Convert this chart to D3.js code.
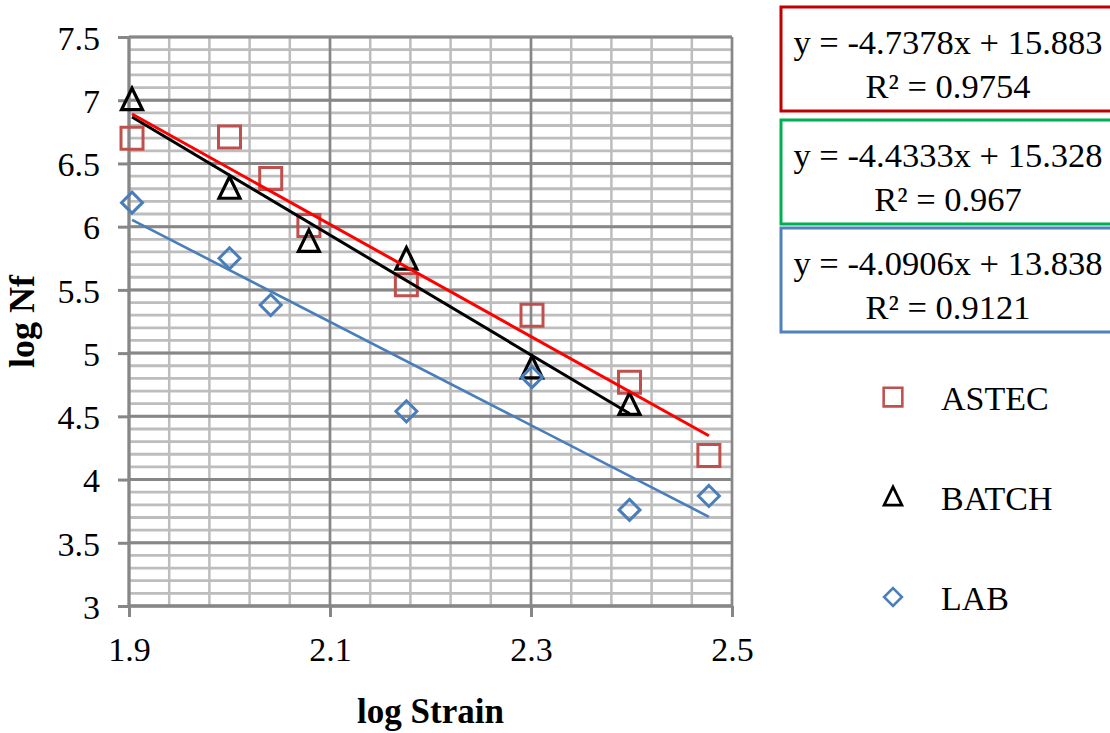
<!DOCTYPE html>
<html>
<head>
<meta charset="utf-8">
<script src="https://cdn.jsdelivr.net/npm/d3@7"></script>
<style>
  html, body { margin: 0; padding: 0; background: #ffffff; }
  svg { display: block; }
  text { font-family: "Liberation Serif", "Times New Roman", serif; fill: #000; }
</style>
</head>
<body>
<svg id="chart" width="1110" height="733"></svg>
<script>
// ---------------- data ----------------
const seriesNames = ["ASTEC", "BATCH", "LAB"];
const astecX = [1.903, 2.0, 2.041, 2.079, 2.176, 2.301, 2.398, 2.477];
const astecY = [6.70, 6.71, 6.38, 6.01, 5.54, 5.30, 4.77, 4.19];
const batchX = [1.903, 2.0, 2.079, 2.176, 2.301, 2.398];
const batchY = [7.00, 6.30, 5.88, 5.74, 4.88, 4.59];
const labX = [1.903, 2.0, 2.041, 2.176, 2.301, 2.398, 2.477];
const labY = [6.19, 5.75, 5.38, 4.54, 4.81, 3.76, 3.87];

// trendline coefficients (slope, intercept) per series
const trendSlope = [-4.4333, -4.7378, -4.0906];     // ASTEC, BATCH, LAB
const trendIntercept = [15.328, 15.883, 13.838];

// equation label boxes (as shown, top to bottom)
const eqSlope = [-4.7378, -4.4333, -4.0906];
const eqIntercept = [15.883, 15.328, 13.838];
const eqR2 = ["0.9754", "0.967", "0.9121"];

const xTicks = [1.9, 2.1, 2.3, 2.5];
const yTicks = [3, 3.5, 4, 4.5, 5, 5.5, 6, 6.5, 7, 7.5];
const xTitle = "log Strain";
const yTitle = "log Nf";

// ---------------- layout ----------------
const svg = d3.select("#chart");
const X0 = 129, X1 = 732, Y0 = 606, Y1 = 37;
const x = d3.scaleLinear().domain([1.9, 2.5]).range([X0, X1]);
const y = d3.scaleLinear().domain([3, 7.5]).range([Y0, Y1]);

const minorCol = "#bdbdbd", majorCol = "#878787";

// minor gridlines
const xMinor = d3.range(0, 16).map(i => +(1.9 + i * 0.04).toFixed(3));
const yMinor = d3.range(0, 46).map(i => +(3 + i * 0.1).toFixed(2));
const g = svg.append("g");
g.selectAll(".hmin").data(yMinor).enter().append("line")
  .attr("x1", X0).attr("x2", X1).attr("y1", d => y(d)).attr("y2", d => y(d))
  .attr("stroke", minorCol).attr("stroke-width", 2.8);
g.selectAll(".vmin").data(xMinor).enter().append("line")
  .attr("y1", Y0).attr("y2", Y1).attr("x1", d => x(d)).attr("x2", d => x(d))
  .attr("stroke", minorCol).attr("stroke-width", 2.5);
// major gridlines
g.selectAll(".hmaj").data(yTicks).enter().append("line")
  .attr("x1", X0).attr("x2", X1).attr("y1", d => y(d)).attr("y2", d => y(d))
  .attr("stroke", majorCol).attr("stroke-width", 3);
g.selectAll(".vmaj").data(xTicks).enter().append("line")
  .attr("y1", Y0).attr("y2", Y1).attr("x1", d => x(d)).attr("x2", d => x(d))
  .attr("stroke", majorCol).attr("stroke-width", 2.5);

// axes
const xAxis = d3.axisBottom(x).tickValues(xTicks).tickFormat(d3.format(".1f")).tickSize(11).tickPadding(20);
const yAxis = d3.axisLeft(y).tickValues(yTicks).tickFormat(d => d3.format("")(d)).tickSize(11).tickPadding(18);
const gx = svg.append("g").attr("transform", `translate(0,${Y0})`).call(xAxis);
const gy = svg.append("g").attr("transform", `translate(${X0},0)`).call(yAxis);
[gx, gy].forEach(a => {
  a.attr("font-family", null);
  a.select(".domain").attr("stroke", majorCol).attr("stroke-width", 3);
  a.selectAll(".tick line").attr("stroke", majorCol).attr("stroke-width", 3);
  a.selectAll(".tick text").style("font-family", '"Liberation Serif", serif')
    .style("font-size", "34px").attr("fill", "#000");
});
gy.select(".domain").attr("d", `M0,${Y0}V${Y1}`);
gx.select(".domain").attr("d", `M${X0},0H${X1}`);
gy.selectAll(".tick text").attr("dy", "0.36em");
gx.selectAll(".tick text").attr("dy", "0.71em");

// axis titles
svg.append("text").attr("x", (X0 + X1) / 2).attr("y", 723)
  .attr("text-anchor", "middle").style("font-size", "35px").style("font-weight", "bold").text(xTitle);
svg.append("text").attr("transform", `translate(34,${(Y0 + Y1) / 2}) rotate(-90)`)
  .attr("text-anchor", "middle").style("font-size", "36px").style("font-weight", "bold").text(yTitle);

// marker shapes
const sq = (cx, cy) => `M${cx - 11},${cy - 11}h22v22h-22Z`;
const tri = (cx, cy) => `M${cx},${cy - 12}L${cx + 10.5},${cy + 9.5}L${cx - 10.5},${cy + 9.5}Z`;
const dia = (cx, cy) => `M${cx},${cy - 10.5}L${cx + 10.5},${cy}L${cx},${cy + 10.5}L${cx - 10.5},${cy}Z`;

const series = [
  { name: seriesNames[0], xs: astecX, ys: astecY, shape: sq, col: "#c0504d", sw: 3, line: "#ff0000", lw: 3 },
  { name: seriesNames[1], xs: batchX, ys: batchY, shape: tri, col: "#000000", sw: 3.2, line: "#000000", lw: 3 },
  { name: seriesNames[2], xs: labX, ys: labY, shape: dia, col: "#4a7ebb", sw: 3, line: "#4a7ebb", lw: 2.6 },
];

// markers
series.forEach(s => {
  svg.append("g").selectAll("path").data(s.xs.map((v, i) => [v, s.ys[i]])).enter().append("path")
    .attr("d", d => s.shape(x(d[0]), y(d[1])))
    .attr("fill", "none").attr("stroke", s.col).attr("stroke-width", s.sw).attr("stroke-linejoin", "miter");
});

// trendlines (drawn order: LAB, BATCH, ASTEC)
[2, 1, 0].forEach(i => {
  const s = series[i];
  const xa = d3.min(s.xs), xb = d3.max(s.xs);
  const f = v => trendSlope[i] * v + trendIntercept[i];
  svg.append("line")
    .attr("x1", x(xa)).attr("y1", y(f(xa))).attr("x2", x(xb)).attr("y2", y(f(xb)))
    .attr("stroke", s.line).attr("stroke-width", s.lw);
});

// equation boxes
const boxTops = [7, 120, 228];
const boxCols = ["#c00000", "#00b050", "#4f81bd"];
eqSlope.forEach((m, i) => {
  const t = boxTops[i];
  svg.append("rect").attr("x", 781).attr("y", t).attr("width", 345).attr("height", 104)
    .attr("fill", "#fff").attr("stroke", boxCols[i]).attr("stroke-width", 3);
  svg.append("text").attr("x", 948).attr("y", t + 47).attr("text-anchor", "middle")
    .style("font-size", "34.5px").text(`y = ${m}x + ${eqIntercept[i]}`);
  svg.append("text").attr("x", 948).attr("y", t + 91).attr("text-anchor", "middle")
    .style("font-size", "34.5px").text(`R² = ${eqR2[i]}`);
});

// legend
const legY = [397, 497, 597];
series.forEach((s, i) => {
  svg.append("path").attr("d", s.shape(893, legY[i]) )
    .attr("transform", `translate(893,${legY[i]}) scale(0.85) translate(-893,${-legY[i]})`)
    .attr("fill", "none").attr("stroke", s.col).attr("stroke-width", s.sw);
  svg.append("text").attr("x", 941).attr("y", legY[i] + 13).style("font-size", "34px").text(s.name);
});
</script>
</body>
</html>
